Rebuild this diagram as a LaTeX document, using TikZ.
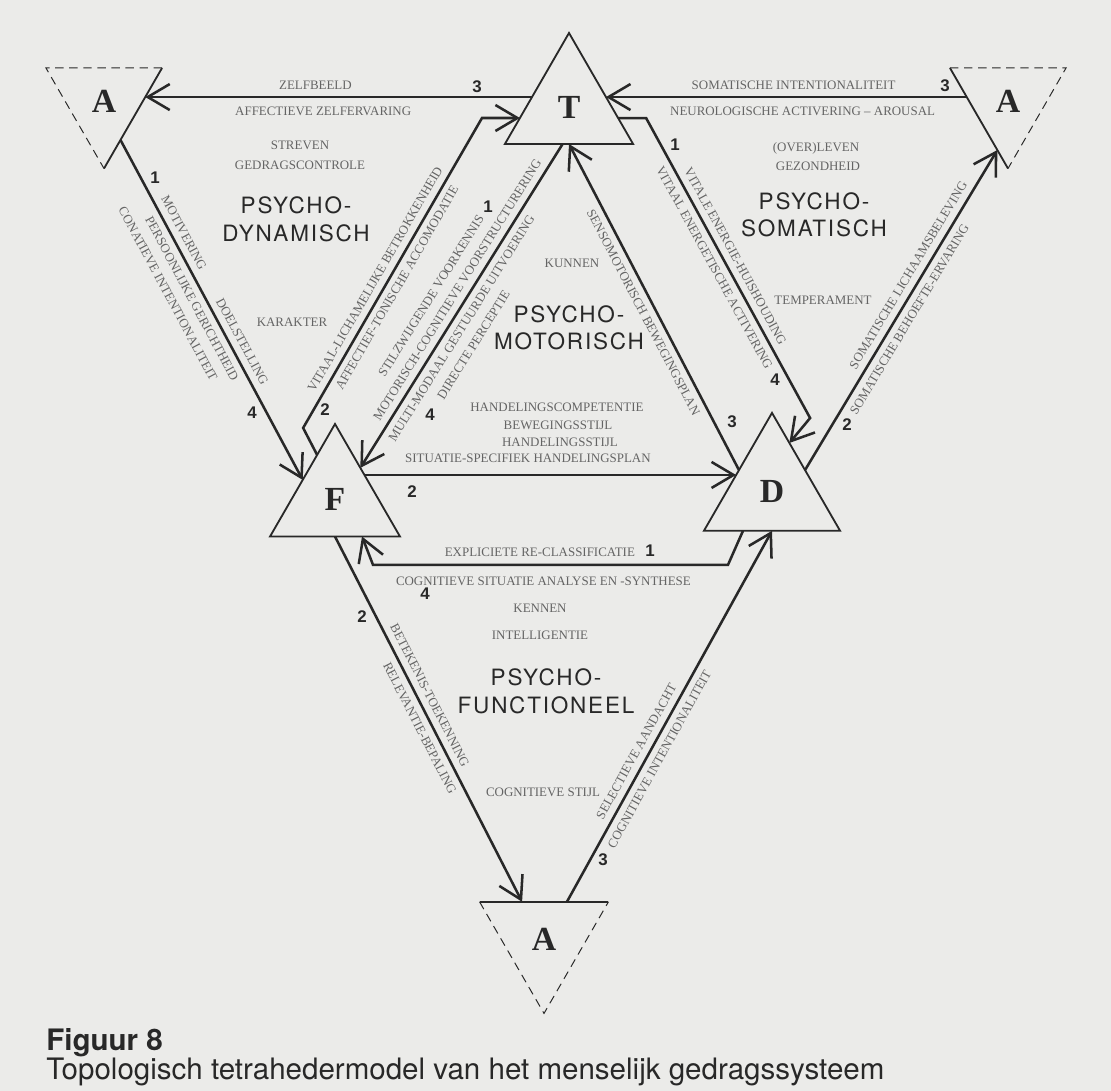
\documentclass[tikz,border=0pt]{standalone}
\usepackage{fontspec}
\setmainfont{Liberation Serif}
\setsansfont{TeX Gyre Heros}
\newfontfamily\numfont{Liberation Sans}
\newfontfamily\widesans[LetterSpace=8]{TeX Gyre Heros}
\usetikzlibrary{arrows.meta,calc,shapes.geometric}

\definecolor{paper}{RGB}{235,235,233}
\definecolor{ink}{RGB}{40,40,40}
\definecolor{printgray}{RGB}{100,100,100}

\begin{document}
\begin{tikzpicture}[x=0.025cm,y=-0.025cm]
\tikzset{
  polebase/.style={regular polygon,regular polygon sides=3,inner sep=0pt,outer sep=0pt,
    text=ink,font=\bfseries\fontsize{24}{24}\selectfont},
  pole/.style={polebase,draw=ink,line width=1.3pt},
  inverted/.style={polebase,shape border rotate=180},
  solidside/.style={draw=ink,line width=1.3pt},
  dashside/.style={draw=ink,line width=0.7pt,dash pattern=on 6pt off 4pt},
  link/.style={draw=ink,line width=1.8pt},
  arrowlink/.style={link,-{Straight Barb[length=5.5mm,width=6.5mm]}},
  along/.style={sloped,inner sep=0pt,text=printgray,font=\fontsize{9.2}{10}\selectfont},
  note/.style={inner sep=0pt,text=printgray,font=\fontsize{9.2}{10}\selectfont},
  num/.style={inner sep=0pt,text=ink,font=\numfont\bfseries\fontsize{12}{12}\selectfont},
  fieldlbl/.style={inner sep=0pt,align=center,text=ink,font=\widesans\fontsize{16}{19.5}\selectfont},
  caption/.style={anchor=base west,inner sep=0pt,text=ink,font=\sffamily\fontsize{21}{21}\selectfont}
}
\fill[paper] (0,0) rectangle (1111,1091);
\useasboundingbox (0,0) rectangle (1111,1091);

% the four poles and the three outer A's
\node[pole,minimum size=3.70cm] (T) at (569,107) {T};
\node[pole,minimum size=3.75cm] (F) at (335,499) {F};
\node[pole,minimum size=3.93cm] (D) at (772,491.5) {D};
\node[inverted,minimum size=3.35cm] (Atl) at (104,101.5) {A};
\node[inverted,minimum size=3.35cm] (Atr) at (1008,101.5) {A};
\node[inverted,minimum size=3.72cm] (Ab) at (544,939) {A};

\draw[solidside] (Atl.corner 2) -- (Atl.corner 1);
\draw[dashside] (Atl.corner 2) -- (Atl.corner 3) -- (Atl.corner 1);
\draw[solidside] (Atr.corner 3) -- (Atr.corner 1);
\draw[dashside] (Atr.corner 3) -- (Atr.corner 2) -- (Atr.corner 1);
\draw[solidside] (Ab.corner 3) -- (Ab.corner 2);
\draw[dashside] (Ab.corner 3) -- (Ab.corner 1) -- (Ab.corner 2);

% attachment points on the sides
\coordinate (tAtl) at ($(T.corner 1)!.577!(T.corner 2)$);
\coordinate (tFa) at ($(T.corner 1)!.766!(T.corner 2)$);
\coordinate (tFb) at ($(T.corner 2)!.45!(T.corner 3)$);
\coordinate (tD) at ($(T.corner 2)!.5!(T.corner 3)$);
\coordinate (tDa) at ($(T.corner 1)!.766!(T.corner 3)$);
\coordinate (tAtr) at ($(T.corner 1)!.577!(T.corner 3)$);
\coordinate (aT) at ($(Atl.corner 2)!.289!(Atl.corner 1)$);
\coordinate (aF) at ($(Atl.corner 2)!.716!(Atl.corner 1)$);
\coordinate (fA) at ($(F.corner 1)!.497!(F.corner 2)$);
\coordinate (fT) at ($(F.corner 1)!.275!(F.corner 2)$);
\coordinate (fTb) at ($(F.corner 1)!.39!(F.corner 3)$);
\coordinate (fD) at ($(F.corner 1)!.453!(F.corner 3)$);
\coordinate (fAb) at ($(F.corner 2)!.5!(F.corner 3)$);
\coordinate (fDb) at ($(F.corner 2)!.708!(F.corner 3)$);
\coordinate (dT) at ($(D.corner 1)!.485!(D.corner 2)$);
\coordinate (dF) at ($(D.corner 1)!.528!(D.corner 2)$);
\coordinate (dTa) at ($(D.corner 1)!.255!(D.corner 3)$);
\coordinate (dA) at ($(D.corner 1)!.485!(D.corner 3)$);
\coordinate (dAb) at ($(D.corner 2)!.5!(D.corner 3)$);
\coordinate (dFb) at ($(D.corner 2)!.287!(D.corner 3)$);
\coordinate (rT) at ($(Atr.corner 3)!.289!(Atr.corner 1)$);
\coordinate (rD) at ($(Atr.corner 3)!.816!(Atr.corner 1)$);
\coordinate (bF) at ($(Ab.corner 3)!.33!(Ab.corner 2)$);
\coordinate (bD) at ($(Ab.corner 3)!.678!(Ab.corner 2)$);
\coordinate (kFT) at (482,118);

% connectors
\draw[arrowlink] (tAtl) -- node[along,above=4.5pt,pos=.56]{ZELFBEELD}
  node[along,below=6pt,pos=.54]{AFFECTIEVE ZELFERVARING} (tAtl -| aT);
\draw[arrowlink] (aF) -- node[along,above=4.5pt,pos=.29]{MOTIVERING}
  node[along,above=4.5pt,pos=.61]{DOELSTELLING}
  node[along,below=4.5pt,pos=.45]{PERSOONLIJKE GERICHTHEID}
  node[along,below=18pt,pos=.41]{CONATIEVE INTENTIONALITEIT} (fA);
\draw[arrowlink] (fT) -- ++(-14,-27) -- node[along,above=4.5pt,pos=.46]{VITAAL-LICHAMELIJKE BETROKKENHEID}
  node[along,below=4pt,pos=.47]{AFFECTIEF-TONISCHE ACCOMODATIE} (kFT) -- (kFT -| tFa);
\draw[arrowlink] (tFb) -- node[along,above=18pt,pos=.52]{STILZWIJGENDE VOORKENNIS}
  node[along,above=4.5pt,pos=.47]{MOTORISCH-COGNITIEVE VOORSTRUCTURERING}
  node[along,below=4.5pt,pos=.55]{MULTI-MODAAL GESTUURDE UITVOERING}
  node[along,below=18pt,pos=.57]{DIRECTE PERCEPTIE} (fTb);
\draw[arrowlink] (dT) -- node[along,below=4.5pt,pos=.5]{SENSOMOTORISCH BEWEGINGSPLAN} (tD);
\draw[arrowlink] (fD) -- node[along,above=8pt,pos=.44]{SITUATIE-SPECIFIEK HANDELINGSPLAN} (fD -| dF);
\draw[arrowlink] (tDa) -- ++(28,0) -- node[along,above=4.5pt,pos=.48]{VITALE ENERGIE-HUISHOUDING}
  node[along,below=4.5pt,pos=.48]{VITAAL ENERGETISCHE ACTIVERING} ++(164,300) -- (dTa);
\draw[arrowlink] (rT) -- node[along,above=4.5pt,pos=.48]{SOMATISCHE INTENTIONALITEIT}
  node[along,below=6pt,pos=.455]{NEUROLOGISCHE ACTIVERING – AROUSAL} (rT -| tAtr);
\draw[arrowlink] (dA) -- node[along,above=4.5pt,pos=.59]{SOMATISCHE LICHAAMSBELEVING}
  node[along,below=4.5pt,pos=.49]{SOMATISCHE BEHOEFTE-ERVARING} (rD);
\draw[arrowlink] (bD) -- node[along,above=4.5pt,pos=.39]{SELECTIEVE AANDACHT}
  node[along,below=4.5pt,pos=.40]{COGNITIEVE INTENTIONALITEIT} (dAb);
\draw[arrowlink] (fAb) -- node[along,above=4.5pt,pos=.45]{BETEKENIS-TOEKENNING}
  node[along,below=4.5pt,pos=.51]{RELEVANTIE-BEPALING} (bF);
\draw[arrowlink] (dFb) -- ++(-15,34) -- node[along,above=5pt,pos=.53]{EXPLICIETE RE-CLASSIFICATIE}
  node[along,below=8pt,pos=.52]{COGNITIEVE SITUATIE ANALYSE EN -SYNTHESE} ($(fDb)+(11,28.4)$) -- (fDb);

% numbers
\node[num] (n3a) at (477,87) {3};
\node[num] (n1a) at (155,178) {1};
\node[num] (n4a) at (252,413) {4};
\node[num] (n2b) at (325,410) {2};
\node[num] (n1c) at (488,207) {1};
\node[num] (n4c) at (430,415) {4};
\node[num] (n3d) at (732,422) {3};
\node[num] (n2e) at (412,492) {2};
\node[num] (n1f) at (675,145) {1};
\node[num] (n4f) at (775,380) {4};
\node[num] (n3g) at (945,86) {3};
\node[num] (n2h) at (847,425) {2};
\node[num] (n3i) at (603,860) {3};
\node[num] (n2j) at (362,617) {2};
\node[num] (n1k) at (650,551) {1};
\node[num] (n4k) at (425,594) {4};

% field texts
\node[note] (strv) at (300,145) {STREVEN};
\node[note] (gdrg) at (300,165) {GEDRAGSCONTROLE};
\node[fieldlbl] (dyn) at (296,219.5) {PSYCHO-\\DYNAMISCH};
\node[note] (krkt) at (292,322) {KARAKTER};
\node[note] (knn) at (572,263) {KUNNEN};
\node[fieldlbl] (mot) at (569,328) {PSYCHO-\\MOTORISCH};
\node[note] (hcmp) at (557,407) {HANDELINGSCOMPETENTIE};
\node[note] (bwst) at (558,425) {BEWEGINGSSTIJL};
\node[note] (hdst) at (560,442) {HANDELINGSSTIJL};
\node[note] (ovl) at (816,148) {(OVER)LEVEN};
\node[note] (gzh) at (818,166) {GEZONDHEID};
\node[fieldlbl] (som) at (814,215) {PSYCHO-\\SOMATISCH};
\node[note] (tmp) at (823,300) {TEMPERAMENT};
\node[note] (knnb) at (540,608) {KENNEN};
\node[note] (intl) at (540,635) {INTELLIGENTIE};
\node[fieldlbl] (fun) at (546,691.5) {PSYCHO-\\FUNCTIONEEL};
\node[note] (cgst) at (543,792) {COGNITIEVE STIJL};

% caption
\node[caption,font=\sffamily\bfseries\fontsize{21}{21}\selectfont] (fig) at (46,1050) {Figuur 8};
\node[caption] (cap) at (46,1079) {Topologisch tetrahedermodel van het menselijk gedragssysteem};
\end{tikzpicture}
\end{document}
